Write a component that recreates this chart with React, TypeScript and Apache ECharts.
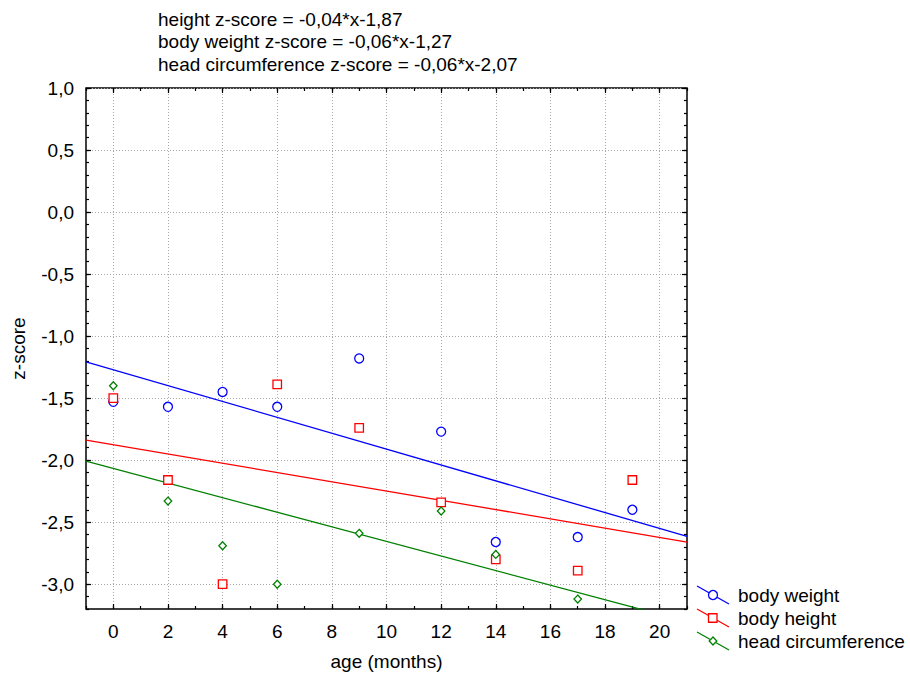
import React, { useEffect, useRef } from "react";
import * as echarts from "echarts";

const ages = [0, 2, 4, 6, 9, 12, 14, 17, 19];
const bodyWeight = [-1.53, -1.57, -1.45, -1.57, -1.18, -1.77, -2.66, -2.62, -2.4];
const bodyHeight = [-1.5, -2.16, -3.0, -1.39, -1.74, -2.34, -2.8, -2.89, -2.16];
const headCirc: (number | null)[] = [-1.4, -2.33, -2.69, -3.0, -2.59, -2.41, -2.76, -3.12, null];

const xTicks = [0, 2, 4, 6, 8, 10, 12, 14, 16, 18, 20];
const yTicks = [-3.0, -2.5, -2.0, -1.5, -1.0, -0.5, 0.0, 0.5, 1.0];
const xRange = [-1, 21];
const yRange = [-3.2, 1.0];

const equations = [
  "height z-score = -0,04*x-1,87",
  "body weight z-score = -0,06*x-1,27",
  "head circumference z-score = -0,06*x-2,07",
];
const seriesNames = ["body weight", "body height", "head circumference"];
const colors = ["#0000ff", "#ff0000", "#008000"];

const FONT = "'Liberation Sans', Arial, Helvetica, sans-serif";

function fitLine(xs: number[], ys: (number | null)[]) {
  const pts = xs.map((x, i) => [x, ys[i]]).filter((p) => p[1] !== null) as number[][];
  const n = pts.length;
  const mx = pts.reduce((s, p) => s + p[0], 0) / n;
  const my = pts.reduce((s, p) => s + p[1], 0) / n;
  let sxy = 0, sxx = 0;
  pts.forEach((p) => {
    sxy += (p[0] - mx) * (p[1] - my);
    sxx += (p[0] - mx) * (p[0] - mx);
  });
  const b = sxy / sxx;
  const a = my - b * mx;
  return xRange.map((x) => [x, a + b * x]);
}

function pairs(xs: number[], ys: (number | null)[]) {
  return xs.map((x, i) => [x, ys[i]]).filter((p) => p[1] !== null);
}

const xMinor: number[] = [];
for (let v = xRange[0]; v <= xRange[1]; v++) xMinor.push(v);
const yMinor: number[] = [];
for (let i = Math.round(yRange[0] * 10); i <= Math.round(yRange[1] * 10); i++) yMinor.push(i / 10);

const fmt = (v: number) => v.toFixed(1).replace(".", ",");

export default function App() {
  const ref = useRef<HTMLDivElement>(null);
  useEffect(() => {
    if (!ref.current) return;
    const chart = echarts.init(ref.current, null, { renderer: "svg" });
    const tickStyle = { color: "#000", width: 1.2 };
    const hiddenLine = { show: false, onZero: false };
    const majorX = (pos: string, main: boolean) => ({
      type: "value",
      min: xRange[0],
      max: xRange[1],
      position: pos,
      axisLine: hiddenLine,
      axisTick: { show: true, inside: true, length: 5, customValues: xTicks, lineStyle: tickStyle },
      axisLabel: main
        ? { show: true, customValues: xTicks, fontSize: 19, color: "#000", margin: 13, fontFamily: FONT }
        : { show: false },
      splitLine: main
        ? { show: true, lineStyle: { type: [1, 2], color: "#a8a8a8", width: 1 } }
        : { show: false },
      ...(main
        ? {
            name: "age (months)",
            nameLocation: "middle",
            nameGap: 43,
            nameTextStyle: { fontSize: 19, color: "#000", fontFamily: FONT },
          }
        : {}),
    });
    const minorX = (pos: string) => ({
      type: "value",
      min: xRange[0],
      max: xRange[1],
      position: pos,
      axisLine: hiddenLine,
      axisTick: { show: true, inside: true, length: 3, customValues: xMinor, lineStyle: tickStyle },
      axisLabel: { show: false },
      splitLine: { show: false },
    });
    const majorY = (pos: string, main: boolean) => ({
      type: "value",
      min: yRange[0],
      max: yRange[1],
      position: pos,
      axisLine: hiddenLine,
      axisTick: { show: true, inside: true, length: 5, customValues: yTicks, lineStyle: tickStyle },
      axisLabel: main
        ? { show: true, customValues: yTicks, fontSize: 19, color: "#000", margin: 12, fontFamily: FONT, formatter: fmt }
        : { show: false },
      splitLine: main
        ? { show: true, lineStyle: { type: [1, 2], color: "#a8a8a8", width: 1 } }
        : { show: false },
      ...(main
        ? {
            name: "z-score",
            nameLocation: "middle",
            nameGap: 58,
            nameTextStyle: { fontSize: 19, color: "#000", fontFamily: FONT },
          }
        : {}),
    });
    const minorY = (pos: string) => ({
      type: "value",
      min: yRange[0],
      max: yRange[1],
      position: pos,
      axisLine: hiddenLine,
      axisTick: { show: true, inside: true, length: 3, customValues: yMinor, lineStyle: tickStyle },
      axisLabel: { show: false },
      splitLine: { show: false },
    });

    const symbols = ["circle", "rect", "diamond"];
    const sizes: any[] = [9, 8.5, [7.5, 8]];
    const dataSets = [bodyWeight, bodyHeight, headCirc];

    const series: any[] = [];
    dataSets.forEach((ys, i) => {
      series.push({
        type: "line",
        name: seriesNames[i] + " fit",
        data: fitLine(ages, ys),
        xAxisIndex: 0,
        yAxisIndex: 0,
        showSymbol: false,
        symbol: "none",
        clip: true,
        lineStyle: { color: colors[i], width: 1.3 },
        z: 2,
        silent: true,
      });
    });
    dataSets.forEach((ys, i) => {
      series.push({
        type: "scatter",
        name: seriesNames[i],
        data: pairs(ages, ys),
        xAxisIndex: 0,
        yAxisIndex: 0,
        symbol: symbols[i],
        symbolSize: sizes[i],
        itemStyle: { color: "#fff", borderColor: colors[i], borderWidth: 1.3, opacity: 1 },
        z: 3 + i,
        silent: true,
      });
    });

    const legendY = [595, 618, 641];
    const legendGraphics: any[] = [];
    legendY.forEach((cy, i) => {
      legendGraphics.push({
        type: "line",
        shape: { x1: 697, y1: cy - 9, x2: 729, y2: cy + 9 },
        style: { stroke: colors[i], lineWidth: 1.3 },
        z: 10,
      });
      if (i === 0) {
        legendGraphics.push({
          type: "circle",
          shape: { cx: 713, cy: cy, r: 4.5 },
          style: { fill: "#fff", stroke: colors[i], lineWidth: 1.3 },
          z: 11,
        });
      } else if (i === 1) {
        legendGraphics.push({
          type: "rect",
          shape: { x: 708.5, y: cy - 4.25, width: 8.5, height: 8.5 },
          style: { fill: "#fff", stroke: colors[i], lineWidth: 1.3 },
          z: 11,
        });
      } else {
        legendGraphics.push({
          type: "polygon",
          shape: { points: [[713, cy - 4], [716.8, cy], [713, cy + 4], [709.2, cy]] },
          style: { fill: "#fff", stroke: colors[i], lineWidth: 1.3 },
          z: 11,
        });
      }
      legendGraphics.push({
        type: "text",
        x: 738,
        y: cy,
        style: {
          text: seriesNames[i],
          fontSize: 19,
          fontFamily: FONT,
          fill: "#000",
          verticalAlign: "middle",
          align: "left",
        },
        z: 11,
      });
    });

    const eqY = [19, 41.5, 64];
    const eqGraphics = equations.map((t, i) => ({
      type: "text",
      x: 158,
      y: eqY[i],
      style: {
        text: t,
        fontSize: 19,
        fontFamily: FONT,
        fill: "#000",
        verticalAlign: "middle",
        align: "left",
      },
    }));

    chart.setOption({
      animation: false,
      backgroundColor: "#fff",
      textStyle: { fontFamily: FONT },
      grid: {
        left: 86,
        top: 88,
        width: 601,
        height: 521,
        show: true,
        borderColor: "#000",
        borderWidth: 1.5,
        backgroundColor: "transparent",
        containLabel: false,
      },
      xAxis: [majorX("bottom", true), minorX("bottom"), majorX("top", false), minorX("top")],
      yAxis: [majorY("left", true), minorY("left"), majorY("right", false), minorY("right")],
      series,
      graphic: [...eqGraphics, ...legendGraphics],
    });
    return () => chart.dispose();
  }, []);
  return (
    <div
      ref={ref}
      style={{ position: "fixed", left: 0, top: 0, width: 910, height: 678, background: "#fff" }}
    />
  );
}
